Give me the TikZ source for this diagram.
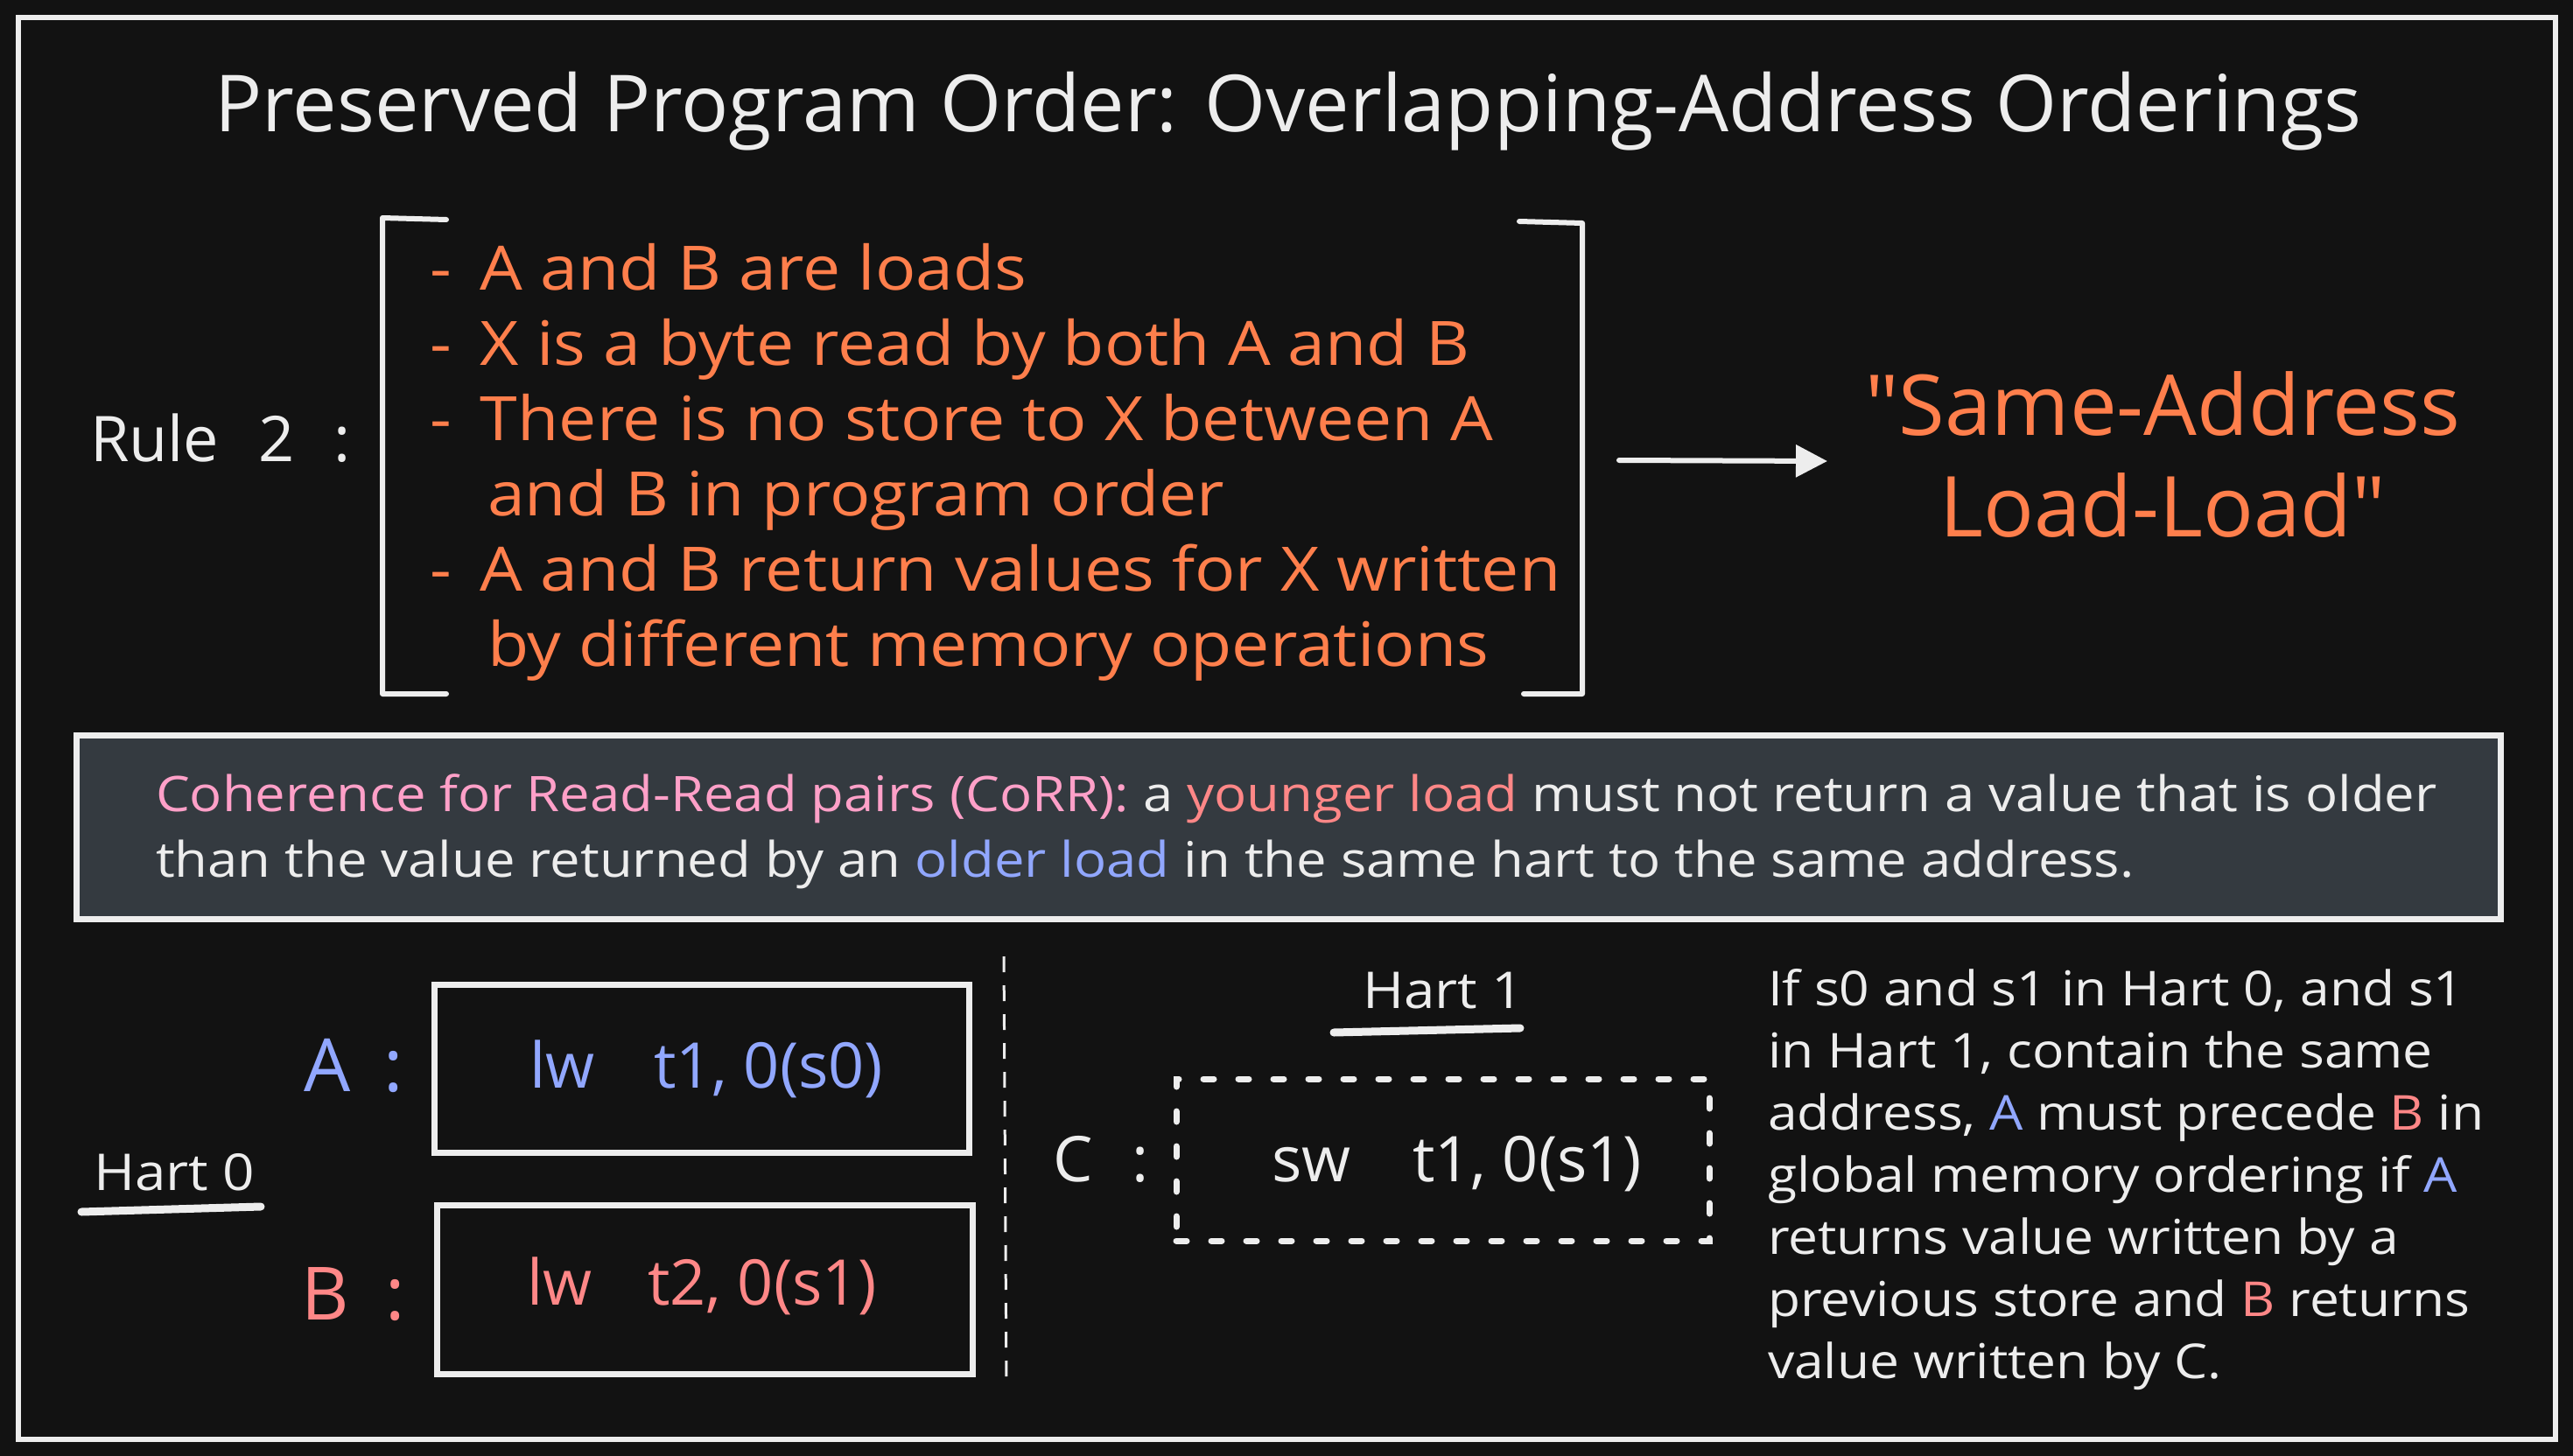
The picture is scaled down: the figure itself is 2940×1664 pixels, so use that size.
\documentclass[tikz,border=0pt]{standalone}
\usepackage{fontspec}
\setmainfont{Open Sans}[Ligatures=TeXOff]
\newfontfamily\wfont{Open Sans}[Ligatures=TeXOff, FakeStretch=1.1]
\usetikzlibrary{arrows.meta}
\definecolor{bg}{HTML}{121212}
\definecolor{fg}{HTML}{EDEDED}
\definecolor{orng}{HTML}{FF7F4C}
\definecolor{pnk}{HTML}{FFA0C8}
\definecolor{slmn}{HTML}{FF8787}
\definecolor{blu}{HTML}{91A7FF}
\definecolor{boxgray}{HTML}{343A40}
\newcommand{\fsz}[1]{\fontsize{#1}{#1}\selectfont}
\tikzset{
  txt/.style={inner sep=0pt, outer sep=0pt, text=fg, anchor=base west},
  bul/.style={txt, text=orng, font=\wfont\fsz{70}},
  para/.style={txt, font=\wfont\fsz{55}},
  cohtxt/.style={txt, font=\wfont\fsz{56}},
  code/.style={txt, font=\fsz{72}},
  codebox/.style={draw=fg, line width=7pt, inner sep=0pt, outer sep=0pt},
  lbl/.style={txt, font=\fsz{84}},
  hart/.style={txt, font=\wfont\fsz{58}},
  stroke/.style={draw=fg, line width=6pt, line cap=round, line join=round},
  uline/.style={draw=fg, line width=9pt, line cap=round}
}
\begin{document}
\begin{tikzpicture}[x=1pt, y=-1pt]
\fill[bg] (0,0) rectangle (2940,1664);
\useasboundingbox (0,0) rectangle (2940,1664);
\draw[fg, line width=6pt] (21,20) rectangle (2920,1645);

% title
\node[txt, anchor=base, font=\fsz{90}] (title) at (1472,151) {Preserved Program Order: Overlapping-Address Orderings};

% rule 2
\node[txt, font=\fsz{72}] (rule) at (103,527) {Rule\hspace{45pt}2\hspace{45pt}:};
\draw[stroke] (510,251) -- (437,249) -- (437,793) -- (510,793);
\draw[stroke] (1736,253) -- (1808,255) -- (1808,793) -- (1741,793);

\node[bul] (b1) at (491,331) {\makebox[58pt][l]{-}A and B are loads};
\node[bul] (b2) at (491,417) {\makebox[58pt][l]{-}X is a byte read by both A and B};
\node[bul] (b3) at (491,503) {\makebox[58pt][l]{-}There is no store to X between A};
\node[bul] (b4) at (557,589) {and B in program order};
\node[bul] (b5) at (491,675) {\makebox[58pt][l]{-}A and B return values for X written};
\node[bul] (b6) at (557,761) {by different memory operations};

\coordinate (arrS) at (1850,526);
\coordinate (arrE) at (2088,527);
\draw[stroke, -{Triangle[length=36pt,width=36pt]}] (arrS) -- (arrE);

\node[txt, anchor=base, text=orng, font=\fsz{96}] (sa1) at (2471,497) {"Same-Address};
\node[txt, anchor=base, text=orng, font=\fsz{96}] (sa2) at (2471,613) {Load-Load"};

% coherence box
\node[draw=fg, fill=boxgray, line width=7pt, minimum width=2770pt, minimum height=210pt, inner sep=0pt, outer sep=0pt] (cohbox) at (1472,945) {};
\node[cohtxt] (c1) at (178,927) {\textcolor{pnk}{Coherence for Read-Read pairs (CoRR):} a \textcolor{slmn}{younger load} must not return a value that is older};
\node[cohtxt] (c2) at (178,1002) {than the value returned by an \textcolor{blu}{older load} in the same hart to the same address.};

% divider
\coordinate (divT) at (1147,1093);
\coordinate (divB) at (1150,1587);
\draw[fg, line width=3pt, dash pattern=on 18pt off 15pt] (divT) -- (divB);

% hart 0
\node[hart] (hart0) at (107,1360) {Hart 0};
\draw[uline] (93,1385) -- (298,1379);
\node[lbl, text=blu] (labA) at (347,1247) {A\hspace{38pt}:};
\node[lbl, text=slmn] (labB) at (344,1508) {B\hspace{42pt}:};
\node[codebox, minimum width=611pt, minimum height=192pt] (boxA) at (801.5,1221) {};
\node[codebox, minimum width=612pt, minimum height=193pt] (boxB) at (805,1473.5) {};
\node[code, text=blu] (lwA) at (605,1243) {lw};
\node[code, text=blu] (argA) at (747,1243) {t1, 0(s0)};
\node[code, text=slmn] (lwB) at (602,1491) {lw};
\node[code, text=slmn] (argB) at (740,1491) {t2, 0(s1)};

% hart 1
\node[hart] (hart1) at (1557,1152) {Hart 1};
\draw[uline] (1524,1180) -- (1737,1175);
\node[txt, font=\fsz{72}] (labC) at (1203,1350) {C\hspace{45pt}:};
\node[draw=fg, line width=7pt, dash pattern=on 12pt off 28pt, line cap=round, minimum width=609pt, minimum height=185pt, inner sep=0pt, outer sep=0pt] (boxC) at (1648.5,1325.5) {};
\node[code] (swC) at (1453,1350) {sw};
\node[code] (argC) at (1614,1350) {t1, 0(s1)};

% paragraph
\node[para] (p1) at (2020,1149) {If s0 and s1 in Hart 0, and s1};
\node[para] (p2) at (2020,1220) {in Hart 1, contain the same};
\node[para] (p3) at (2020,1291) {address, \textcolor{blu}{A} must precede \textcolor{slmn}{B} in};
\node[para] (p4) at (2020,1362) {global memory ordering if \textcolor{blu}{A}};
\node[para] (p5) at (2020,1433) {returns value written by a};
\node[para] (p6) at (2020,1504) {previous store and \textcolor{slmn}{B} returns};
\node[para] (p7) at (2020,1575) {value written by C.};
\end{tikzpicture}
\end{document}
